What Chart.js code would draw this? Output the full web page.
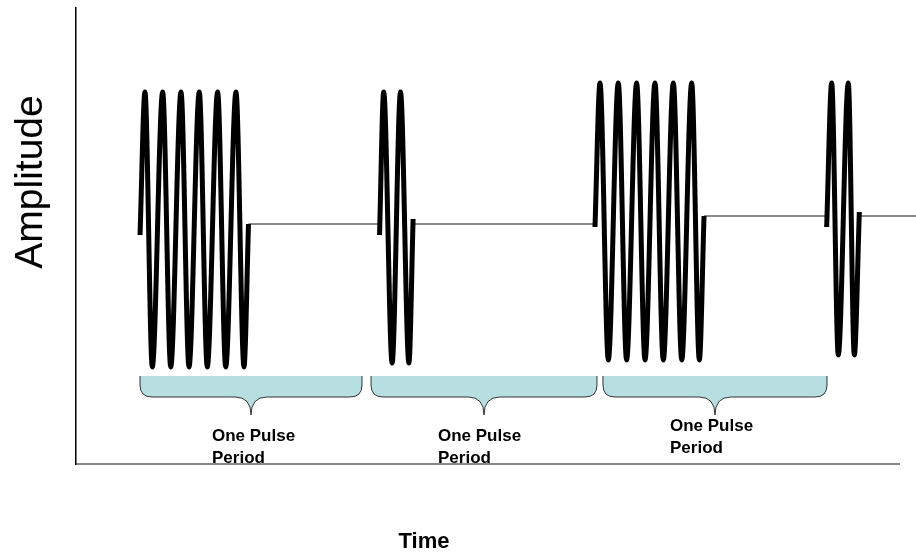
<!DOCTYPE html>
<html>
<head>
<meta charset="utf-8">
<script src="https://cdn.jsdelivr.net/npm/chart.js@4.4.1/dist/chart.umd.min.js"></script>
<style>
  html, body { margin: 0; padding: 0; background: #fff; }
  #wrap { width: 916px; height: 556px; position: relative; }
</style>
</head>
<body>
<div id="wrap"><canvas id="pulseChart"></canvas></div>
<script>
// Values. Time in arbitrary units (0..100 along the axis),
// amplitude relative to the rest level (peaks and troughs of each burst).
const burst1Time = [7.78, 8.38, 9.27, 10.53, 11.51, 12.76, 13.73, 14.98, 15.95, 17.21, 18.19, 19.44, 20.41, 20.96];
const burst1Amp  = [-0.055, 0.66, -0.715, 0.66, -0.715, 0.66, -0.715, 0.66, -0.715, 0.66, -0.715, 0.66, -0.715, 0];

const burst2Time = [36.88, 37.39, 38.41, 39.43, 40.45, 40.96];
const burst2Amp  = [-0.055, 0.66, -0.695, 0.66, -0.695, 0.025];

const burst3Time = [63.06, 63.67, 64.68, 65.89, 66.90, 68.12, 69.14, 70.35, 71.36, 72.58, 73.60, 74.81, 75.74, 76.31];
const burst3Amp  = [-0.015, 0.705, -0.68, 0.705, -0.68, 0.705, -0.68, 0.705, -0.68, 0.705, -0.68, 0.705, -0.68, 0.04];

const burst4Time = [91.21, 91.82, 92.62, 93.84, 94.57, 95.18];
const burst4Amp  = [-0.015, 0.705, -0.655, 0.705, -0.655, 0.06];

// quiet stretches between bursts
const restStart = [20.96, 40.96, 76.31, 95.18];
const restEnd   = [36.88, 63.06, 91.21, 102.07];
const restLevel = [0, 0, 0.04, 0.04];

// pulse periods marked by the braces
const periodStart = [7.78, 35.85, 64.03];
const periodEnd   = [34.75, 63.3, 91.25];
const periodText  = ['One Pulse', 'Period'];

const xTitle = 'Time';
const yTitle = 'Amplitude';

// build the line data, a null between bursts breaks the line
const bursts = [[burst1Time, burst1Amp], [burst2Time, burst2Amp], [burst3Time, burst3Amp], [burst4Time, burst4Amp]];
const waveData = [];
bursts.forEach(([t, a], i) => {
  if (i > 0) waveData.push({ x: t[0], y: null });
  t.forEach((v, j) => waveData.push({ x: v, y: a[j] }));
});
const restData = [];
restStart.forEach((t0, i) => {
  if (i > 0) restData.push({ x: t0, y: null });
  restData.push({ x: t0, y: restLevel[i] });
  restData.push({ x: restEnd[i], y: restLevel[i] });
});

const FONT = '"Liberation Sans", Arial, Helvetica, sans-serif';

// braces, their labels and the two axis titles
const pulseNotes = {
  id: 'pulseNotes',
  afterDraw(chart) {
    const { ctx, scales: { x } } = chart;
    const top = 376, flat = 397, tip = 415, r = 12, tw = 16;
    const labelLeft = [212, 438, 670];
    const labelBase = [441, 441, 431];
    ctx.save();
    periodStart.forEach((t0, i) => {
      const x0 = x.getPixelForValue(t0);
      const x1 = x.getPixelForValue(periodEnd[i]);
      const xm = (x0 + x1) / 2;
      ctx.beginPath();
      ctx.moveTo(x0, top);
      ctx.lineTo(x0, flat - r);
      ctx.quadraticCurveTo(x0, flat, x0 + r, flat);
      ctx.lineTo(xm - tw, flat);
      ctx.quadraticCurveTo(xm, flat, xm, tip);
      ctx.quadraticCurveTo(xm, flat, xm + tw, flat);
      ctx.lineTo(x1 - r, flat);
      ctx.quadraticCurveTo(x1, flat, x1, flat - r);
      ctx.lineTo(x1, top);
      ctx.fillStyle = '#b7dfe2';
      ctx.fill();
      ctx.strokeStyle = '#333';
      ctx.lineWidth = 1;
      ctx.stroke();

      ctx.fillStyle = '#000';
      ctx.font = 'bold 17px ' + FONT;
      ctx.textAlign = 'left';
      ctx.textBaseline = 'alphabetic';
      ctx.fillText(periodText[0], labelLeft[i], labelBase[i]);
      ctx.fillText(periodText[1], labelLeft[i], labelBase[i] + 22);
    });

    ctx.font = 'bold 22px ' + FONT;
    ctx.textAlign = 'center';
    ctx.fillText(xTitle, 424, 548);

    ctx.translate(42, 182);
    ctx.rotate(-Math.PI / 2);
    ctx.font = '39px ' + FONT;
    ctx.fillText(yTitle, 0, 0);
    ctx.restore();
  }
};

new Chart(document.getElementById('pulseChart'), {
  type: 'line',
  data: {
    datasets: [{
      label: 'Signal',
      data: waveData,
      borderColor: '#000',
      borderWidth: 5,
      pointRadius: 0,
      cubicInterpolationMode: 'monotone',
      spanGaps: false,
      clip: false
    }, {
      label: 'Rest',
      data: restData,
      borderColor: '#666',
      borderWidth: 1.5,
      pointRadius: 0,
      spanGaps: false,
      clip: false
    }]
  },
  options: {
    responsive: true,
    maintainAspectRatio: false,
    animation: false,
    layout: { padding: { left: 76, right: 17, top: 8, bottom: 92 } },
    scales: {
      x: {
        type: 'linear',
        min: 0,
        max: 100,
        grid: { display: false, drawTicks: false },
        ticks: { display: false },
        border: { display: true, color: '#888', width: 2 }
      },
      y: {
        min: -1.2,
        max: 1.08,
        grid: { display: false, drawTicks: false },
        ticks: { display: false },
        border: { display: true, color: '#000', width: 1.5 }
      }
    },
    plugins: {
      legend: { display: false },
      tooltip: { enabled: false }
    }
  },
  plugins: [pulseNotes]
});
</script>
</body>
</html>
